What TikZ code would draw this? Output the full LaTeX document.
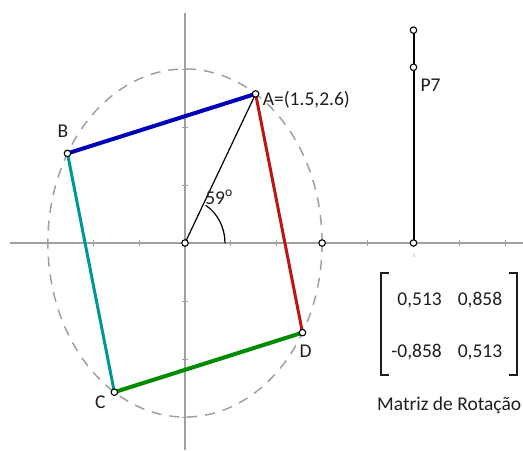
\documentclass[tikz,border=0pt]{standalone}
\usepackage{fontspec}
\setmainfont{Carlito}
\usepackage{tikz}
\definecolor{RotBlue}{RGB}{0,0,185}
\definecolor{RotRed}{RGB}{190,20,20}
\definecolor{RotTeal}{RGB}{0,150,150}
\definecolor{RotGreen}{RGB}{0,140,0}
\definecolor{RotGray}{RGB}{160,160,160}
\definecolor{RotDark}{RGB}{30,30,30}

\begin{document}
\begin{tikzpicture}[x=45.7pt,y=58pt,
  pt/.style={circle,draw=black,fill=white,line width=1.1pt,inner sep=0pt,minimum size=6.5pt},
  lbl/.style={font=\fontsize{19.5}{22}\selectfont,color=RotDark,inner sep=0pt}]
  \useasboundingbox (-4.048,-3.569) rectangle (7.396,4.190);

  % Axes and ticks
  \draw[RotGray,line width=1.3pt] (-3.83,0) -- (7.4,0);
  \draw[RotGray,line width=1.3pt] (0,-3.57) -- (0,3.966);
  \foreach \x in {-3,-2,-1,1,2,4,6,7} {
    \draw[RotGray,line width=0.8pt] (\x,0.05) -- (\x,-0.05);
  }
  \foreach \y in {-3,-2,-1,1,2,3} {
    \draw[RotGray,line width=0.8pt] (-0.07,\y) -- (0.07,\y);
  }
  \node[font=\tiny,color=RotGray] (five) at (5.02,-0.22) {5};

  % Dashed circle of radius 3
  \coordinate (O) at (0,0);
  \draw[RotGray,line width=1.5pt,dash pattern=on 10pt off 8pt] (O) circle (3);

  % Rotated square
  \coordinate (A) at (59:3);
  \coordinate (B) at (149:3);
  \coordinate (C) at (239:3);
  \coordinate (D) at (329:3);
  \draw[RotBlue,line width=4pt] (A) -- (B);
  \draw[RotTeal,line width=3pt] (B) -- (C);
  \draw[RotGreen,line width=4pt] (C) -- (D);
  \draw[RotRed,line width=3pt] (D) -- (A);

  % Angle
  \draw[black,line width=1.2pt] (O) -- (A);
  \draw[black,line width=1.2pt] (0.875,0) arc[start angle=0,end angle=59,x radius=0.875,y radius=0.76];
  \node[lbl] (ang) at (0.744,0.793) {59\textsuperscript{o}};

  % Segment at x=5
  \coordinate (Q) at (5,0);
  \coordinate (P7) at (5,3.03);
  \coordinate (Top) at (5,3.67);
  \draw[black,line width=2pt] (Q) -- (Top);

  % Points
  \foreach \p in {O,A,B,C,D,Q,P7,Top} {
    \node[pt] at (\p) {};
  }
  \node[pt] (R) at (3,0) {};

  % Labels
  \node[lbl,anchor=west] (labA) at ([xshift=7pt,yshift=-6pt]A) {A=(1.5,2.6)};
  \node[lbl] (labB) at ([xshift=-4.5pt,yshift=22pt]B) {B};
  \node[lbl] (labC) at ([xshift=-14pt,yshift=-10pt]C) {C};
  \node[lbl] (labD) at ([xshift=3pt,yshift=-19pt]D) {D};
  \node[lbl] (labP) at ([xshift=17pt,yshift=-18pt]P7) {P7};

  % Rotation matrix
  \draw[RotDark,line width=2.2pt] (4.464,-0.517) -- (4.289,-0.517) -- (4.289,-2.276) -- (4.464,-2.276);
  \draw[RotDark,line width=2.2pt] (7.09,-0.517) -- (7.265,-0.517) -- (7.265,-2.276) -- (7.09,-2.276);
  \node[lbl,anchor=east] (m11) at (5.624,-0.983) {0,513};
  \node[lbl] (m12) at (6.455,-0.983) {0,858};
  \node[lbl,anchor=east] (m21) at (5.624,-1.879) {-0,858};
  \node[lbl] (m22) at (6.455,-1.879) {0,513};
  \node[lbl,anchor=east] (mname) at (7.36,-2.793) {Matriz de Rotação};
\end{tikzpicture}
\end{document}
